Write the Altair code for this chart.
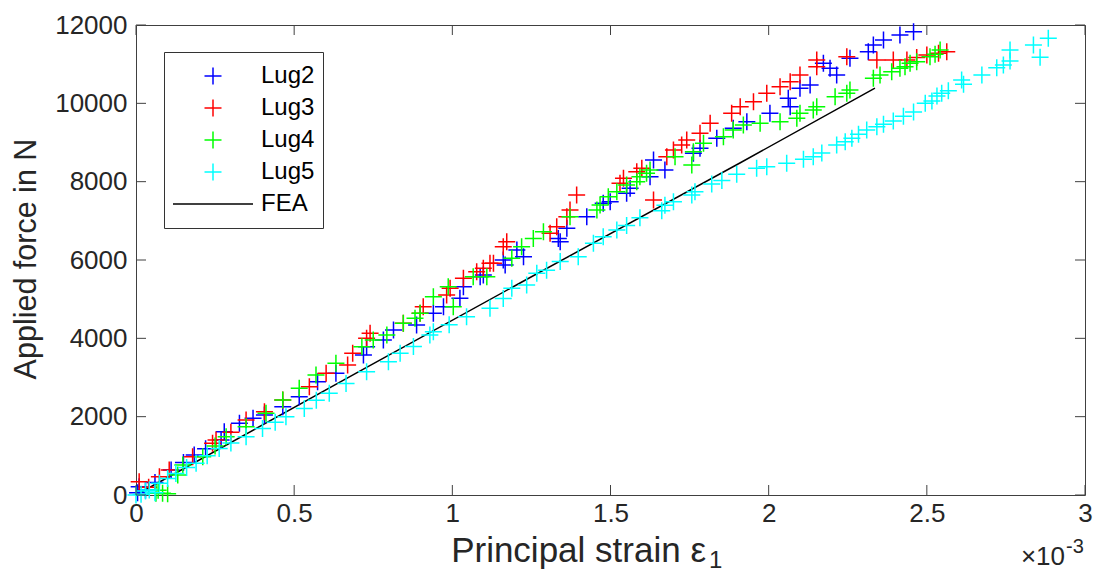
import altair as alt
import pandas as pd

# ---- data (strain in units of 1e-3, force in N) ----
lug2_x = [0.005, 0.010, 0.03, 0.06, 0.111, 0.15, 0.184, 0.22, 0.269, 0.279, 0.327, 0.37, 0.406, 0.464,
          0.516, 0.574, 0.632, 0.719, 0.729, 0.782, 0.814, 0.887, 0.940, 0.972, 1.024, 1.035, 1.088,
          1.098, 1.161, 1.167, 1.204, 1.225, 1.335, 1.341, 1.362, 1.425, 1.477, 1.499, 1.551, 1.562,
          1.625, 1.636, 1.672, 1.762, 1.783, 1.836, 1.888, 1.931, 2.004, 2.062, 2.068, 2.099, 2.131,
          2.173, 2.194, 2.215, 2.257, 2.315, 2.331, 2.363, 2.415, 2.458]
lug2_y = [60, 212, 130, 320, 638, 830, 1021, 1180, 1404, 1617, 1830, 1960, 2042, 2255,
          2510, 2894, 3106, 3574, 3787, 3957, 4212, 4340, 4638, 4808, 5021, 5318, 5574,
          5617, 6000, 5872, 6255, 6085, 6552, 6467, 6808, 7106, 7446, 7489, 7702, 7829,
          8127, 8553, 8298, 8723, 8851, 9106, 9361, 9531, 9744, 10127, 9914, 10383, 10468,
          11021, 10893, 10723, 11148, 11318, 11489, 11616, 11744, 11829]

lug3_x = [0.010, 0.04, 0.074, 0.105, 0.179, 0.242, 0.253, 0.30, 0.348, 0.406, 0.464, 0.548, 0.601,
          0.669, 0.685, 0.729, 0.740, 0.845, 0.898, 0.908, 0.982, 0.993, 1.035, 1.077, 1.098, 1.119,
          1.130, 1.161, 1.172, 1.309, 1.330, 1.362, 1.372, 1.393, 1.530, 1.541, 1.583, 1.599, 1.636,
          1.678, 1.699, 1.725, 1.741, 1.783, 1.815, 1.883, 1.910, 1.952, 1.994, 2.036, 2.068, 2.099,
          2.152, 2.152, 2.247, 2.342, 2.394, 2.437, 2.468, 2.500, 2.537, 2.563]
lug3_y = [340, 200, 468, 638, 979, 1319, 1404, 1600, 1915, 2127, 2425, 2766, 3106,
          3319, 3617, 4000, 4127, 4383, 4638, 4808, 5106, 5276, 5531, 5702, 5787, 5914,
          5914, 6340, 6467, 6680, 6851, 7106, 7276, 7659, 7957, 8085, 8255, 8340, 7531,
          8638, 8808, 8936, 9063, 9233, 9489, 9744, 9914, 10042, 10255, 10425, 10553, 10723,
          10936, 11106, 11191, 11106, 11106, 11106, 11170, 11233, 11276, 11318]

lug4_x = [0.063, 0.084, 0.07, 0.10, 0.132, 0.148, 0.211, 0.25, 0.285, 0.348, 0.411, 0.464, 0.516,
          0.569, 0.632, 0.714, 0.750, 0.793, 0.845, 0.882, 0.898, 0.940, 0.987, 1.003, 1.066, 1.109,
          1.188, 1.219, 1.256, 1.288, 1.372, 1.457, 1.467, 1.493, 1.520, 1.551, 1.583, 1.593, 1.614,
          1.625, 1.704, 1.757, 1.762, 1.794, 1.857, 1.888, 1.920, 1.973, 2.036, 2.089, 2.099, 2.141,
          2.152, 2.210, 2.247, 2.257, 2.331, 2.352, 2.389, 2.415, 2.431, 2.447, 2.468, 2.510, 2.526,
          2.542]
lug4_y = [43, 43, 120, 30, 511, 766, 979, 1250, 1489, 1745, 2085, 2425, 2724,
          3064, 3362, 3787, 3957, 4085, 4383, 4510, 4638, 5063, 5318, 4808, 5574, 5574,
          6042, 6340, 6552, 6723, 7106, 7276, 7404, 7617, 7744, 7914, 7999, 8127, 8213,
          8298, 8638, 8425, 8765, 8978, 9148, 9318, 9446, 9489, 9531, 9616, 9744, 9829,
          9914, 10170, 10255, 10340, 10638, 10723, 10808, 10893, 10936, 11021, 11063, 11191, 11251,
          11361]

lug5_x = [0.00, 0.016, 0.03, 0.042, 0.06, 0.074, 0.10, 0.126, 0.160, 0.190, 0.225, 0.263, 0.30,
          0.348, 0.40, 0.44, 0.474, 0.532, 0.57, 0.611, 0.664, 0.729, 0.798, 0.835, 0.877, 0.929,
          0.940, 0.99, 1.045, 1.119, 1.161, 1.188, 1.235, 1.267, 1.298, 1.341, 1.398, 1.446, 1.477,
          1.520, 1.551, 1.593, 1.662, 1.672, 1.699, 1.757, 1.767, 1.820, 1.852, 1.899, 1.962, 1.994,
          2.057, 2.110, 2.141, 2.168, 2.215, 2.242, 2.263, 2.284, 2.310, 2.342, 2.363, 2.394, 2.426,
          2.458, 2.495, 2.516, 2.532, 2.547, 2.568, 2.610, 2.616, 2.674, 2.721, 2.742, 2.763, 2.763,
          2.837, 2.858, 2.884]
lug5_y = [0, 20, 100, 130, 60, 300, 420, 550, 700, 810, 1000, 1190, 1330,
          1490, 1700, 1860, 2000, 2210, 2420, 2600, 2850, 3150, 3400, 3620, 3790, 4085,
          4170, 4350, 4550, 4770, 5020, 5280, 5360, 5660, 5740, 5960, 6085, 6425, 6595,
          6765, 6880, 7080, 7260, 7400, 7490, 7660, 7744, 7940, 8030, 8190, 8340, 8383,
          8470, 8570, 8638, 8730, 8936, 9021, 9106, 9208, 9318, 9403, 9463, 9550, 9670,
          9780, 10000, 10059, 10186, 10255, 10322, 10595, 10485, 10723, 10910, 10978, 11080, 11361,
          11489, 11174, 11659]

fea_x = [0.0, 0.696, 1.214, 1.909, 2.336]
fea_y = [0, 3114, 5413, 8476, 10390]

series_names = ["Lug2", "Lug3", "Lug4", "Lug5", "FEA"]
series_colors = ["#0000ff", "#ff0000", "#00ff00", "#00ffff", "#000000"]
x_ticks = [0, 0.5, 1, 1.5, 2, 2.5, 3]
y_ticks = [0, 2000, 4000, 6000, 8000, 10000, 12000]

# ---- tables ----
frames = []
for name, xs, ys in [("Lug2", lug2_x, lug2_y), ("Lug3", lug3_x, lug3_y),
                     ("Lug4", lug4_x, lug4_y), ("Lug5", lug5_x, lug5_y)]:
    frames.append(pd.DataFrame({"strain": xs, "force": ys, "series": name}))
pts = pd.concat(frames, ignore_index=True)
fea = pd.DataFrame({"strain": fea_x, "force": fea_y})
xt = pd.DataFrame({"v": x_ticks})
yt = pd.DataFrame({"v": y_ticks})

W, H = 949, 470
FONT = "Liberation Sans"
PLUS = "M-0.2125,0L0.2125,0M0,-0.2125L0,0.2125"
LINE = "M-1,0L1,0"

xscale = alt.Scale(domain=[0, 3], nice=False, zero=False)
yscale = alt.Scale(domain=[0, 12000], nice=False, zero=False)

xaxis = alt.Axis(values=x_ticks, format="~g", title=None, labelFlush=False, ticks=False,
                 domain=False, grid=False, labelPadding=5)
yaxis = alt.Axis(values=y_ticks, format="d", title=None, labelFlush=False, ticks=False,
                 domain=False, grid=False, labelPadding=9)

legend = alt.Legend(title=None, orient="none", legendX=28, legendY=27, symbolSize=6400,
                    clipHeight=32, rowPadding=0, padding=8, labelOffset=7, labelFontSize=24,
                    labelFont=FONT, labelColor="#000000", strokeColor="#333333",
                    fillColor="#ffffff", symbolStrokeWidth=1.5)

points = alt.Chart(pts).mark_point(filled=False, size=6400, strokeWidth=1.5, opacity=1).encode(
    x=alt.X("strain:Q", scale=xscale, axis=xaxis),
    y=alt.Y("force:Q", scale=yscale, axis=yaxis),
    color=alt.Color("series:N", scale=alt.Scale(domain=series_names, range=series_colors),
                    legend=legend),
    shape=alt.Shape("series:N", scale=alt.Scale(domain=series_names,
                                                range=[PLUS, PLUS, PLUS, PLUS, LINE]),
                    legend=legend),
)

fea_line = alt.Chart(fea).mark_line(color="#000000", strokeWidth=1.5).encode(
    x=alt.X("strain:Q", scale=xscale),
    y=alt.Y("force:Q", scale=yscale),
)

TC = "#404040"
tick_bottom = alt.Chart(xt).mark_rule(color=TC, strokeWidth=1).encode(
    x=alt.X("v:Q", scale=xscale), y=alt.value(H), y2=alt.value(H - 10))
tick_top = alt.Chart(xt).mark_rule(color=TC, strokeWidth=1).encode(
    x=alt.X("v:Q", scale=xscale), y=alt.value(0), y2=alt.value(10))
tick_left = alt.Chart(yt).mark_rule(color=TC, strokeWidth=1).encode(
    y=alt.Y("v:Q", scale=yscale), x=alt.value(0), x2=alt.value(10))
tick_right = alt.Chart(yt).mark_rule(color=TC, strokeWidth=1).encode(
    y=alt.Y("v:Q", scale=yscale), x=alt.value(W), x2=alt.value(W - 10))


def label(txt, x, y, size, align="center", baseline="alphabetic", angle=0):
    return alt.Chart(pd.DataFrame({"t": [txt]})).mark_text(
        font=FONT, fontSize=size, color="#262626", align=align, baseline=baseline, angle=angle
    ).encode(text="t:N", x=alt.value(x), y=alt.value(y))


ytitle = label("Applied force in N", -109, 234, 30.5, baseline="middle", angle=270)
xtitle = label("Principal strain ε", 570, 537, 35, align="right")
xsub = label("1", 573, 543, 24, align="left")
exp_main = label("×10", 929, 540, 26, align="right")
exp_sup = label("-3", 930, 528, 20, align="left")

chart = alt.layer(
    fea_line, points, tick_bottom, tick_top, tick_left, tick_right,
    ytitle, xtitle, xsub, exp_main, exp_sup
).properties(
    width=W, height=H,
    autosize=alt.AutoSizeParams(type="none"),
    padding={"left": 128, "top": 17, "right": 8, "bottom": 79},
).configure_view(
    stroke="#404040", strokeWidth=1
).configure_axis(
    labelFont=FONT, labelFontSize=26, labelColor="#262626"
)

chart.save("out.html", embed_options={"renderer": "svg", "actions": False})
